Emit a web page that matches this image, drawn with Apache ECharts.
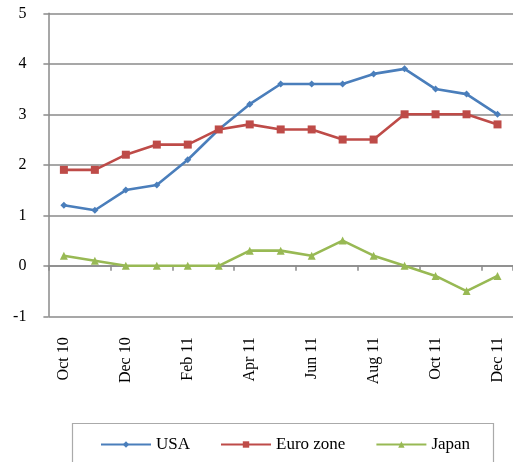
<!DOCTYPE html>
<html>
<head>
<meta charset="utf-8">
<script src="https://cdn.jsdelivr.net/npm/echarts@6/dist/echarts.min.js"></script>
<style>
  html, body { margin: 0; padding: 0; background: #fff; }
  #chart { width: 513px; height: 462px; }
</style>
</head>
<body>
<div id="chart"></div>
<script>
// Monthly inflation rates, Oct 2010 – Dec 2011 (%)
const months = ['Oct 10', 'Nov 10', 'Dec 10', 'Jan 11', 'Feb 11', 'Mar 11', 'Apr 11', 'May 11',
                'Jun 11', 'Jul 11', 'Aug 11', 'Sep 11', 'Oct 11', 'Nov 11', 'Dec 11'];
const usa      = [1.2, 1.1, 1.5, 1.6, 2.1, 2.7, 3.2, 3.6, 3.6, 3.6, 3.8, 3.9, 3.5, 3.4, 3.0];
const euroZone = [1.9, 1.9, 2.2, 2.4, 2.4, 2.7, 2.8, 2.7, 2.7, 2.5, 2.5, 3.0, 3.0, 3.0, 2.8];
const japan    = [0.2, 0.1, 0.0, 0.0, 0.0, 0.0, 0.3, 0.3, 0.2, 0.5, 0.2, 0.0, -0.2, -0.5, -0.2];
const yTicks   = { min: -1, max: 5, step: 1 };

const FONT = "'Liberation Serif', 'Times New Roman', serif";
const GRID_GRAY = '#8a8a8a';

const chart = echarts.init(document.getElementById('chart'), null, { renderer: 'canvas' });

function lineSeries(name, data, color, symbol, size) {
  return {
    name, type: 'line', data,
    xAxisIndex: 0, yAxisIndex: 0,
    symbol, symbolSize: size,
    showSymbol: true,
    lineStyle: { color, width: 2.6 },
    itemStyle: { color },
    emphasis: { disabled: true },
    animation: false
  };
}

chart.setOption({
  animation: false,
  backgroundColor: '#fff',
  textStyle: { fontFamily: FONT },
  grid: { left: 48.4, top: 13.3, width: 468, height: 303, containLabel: false },
  xAxis: [
    {
      // month labels along the bottom edge
      type: 'category', data: months, boundaryGap: true,
      position: 'bottom',
      axisLine: { show: false, onZero: false },
      axisTick: { show: false },
      axisLabel: {
        interval: 1, rotate: 90, margin: 21,
        color: '#000', fontFamily: FONT, fontSize: 16
      }
    },
    {
      // category baseline drawn at zero, with tick marks
      type: 'category', data: months, boundaryGap: true,
      position: 'bottom',
      axisLine: { show: true, onZero: true, lineStyle: { color: GRID_GRAY, width: 1.5 } },
      axisTick: { show: true, interval: 1, length: 5, lineStyle: { color: GRID_GRAY, width: 1.5 } },
      axisLabel: { show: false }
    }
  ],
  yAxis: {
    type: 'value', min: yTicks.min, max: yTicks.max, interval: yTicks.step,
    axisLine: { show: true, lineStyle: { color: GRID_GRAY, width: 1.5 } },
    axisTick: { show: true, length: 5, inside: false, lineStyle: { color: GRID_GRAY, width: 1.5 } },
    splitLine: { show: true, lineStyle: { color: GRID_GRAY, width: 1.5 } },
    axisLabel: { color: '#000', fontFamily: FONT, fontSize: 16, margin: 22 }
  },
  legend: {
    left: 100, top: 436, padding: 0,
    itemWidth: 50, itemHeight: 8, itemGap: 30,
    textStyle: { color: '#000', fontFamily: FONT, fontSize: 17 },
    data: ['USA', 'Euro zone', 'Japan'],
    selectedMode: false
  },
  graphic: [{
    type: 'rect', left: 70, top: 421,
    shape: { width: 421, height: 60 },
    style: { fill: 'none', stroke: '#aaaaaa', lineWidth: 1.2 },
    z: -1
  }],
  series: [
    lineSeries('USA', usa, '#4a7ebb', 'diamond', 7),
    lineSeries('Euro zone', euroZone, '#be4b48', 'rect', 8),
    lineSeries('Japan', japan, '#98b954', 'triangle', 8)
  ]
});
</script>
</body>
</html>
